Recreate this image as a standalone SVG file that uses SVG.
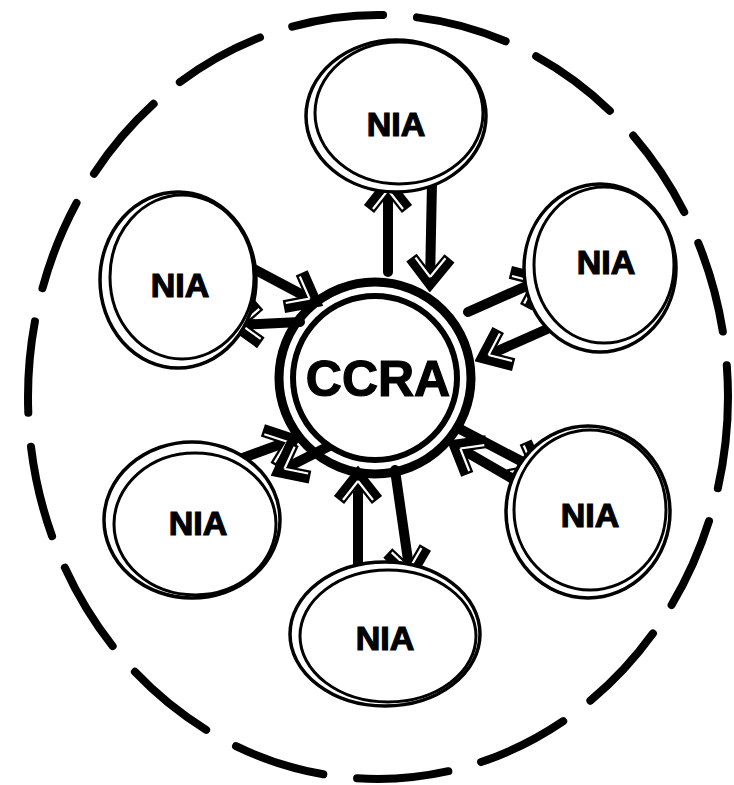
<svg xmlns="http://www.w3.org/2000/svg" width="734" height="785" viewBox="0 0 734 785">
<style>
.nia-o{fill:#fff;stroke:#000;stroke-width:3.5}
.nia-i{fill:none;stroke:#000;stroke-width:3}
.lbl{font-family:"Liberation Sans",Arial,sans-serif;font-weight:bold;fill:#000;text-anchor:middle;stroke:#000;stroke-width:1.2}
.c{stroke:#000;stroke-width:10;stroke-linecap:round;fill:none}
</style>
<defs>
<marker id="arr" markerUnits="userSpaceOnUse" viewBox="-36 -28 46 56" markerWidth="46" markerHeight="56" refX="0" refY="0" orient="auto">
<path d="M-24,-19 L0,0 L-24,19" fill="none" stroke="#000" stroke-width="13" stroke-linejoin="miter"/>
<path d="M-24,-15 L-5,0 M-24,15 L-5,0" fill="none" stroke="#fff" stroke-width="2.2"/>
</marker>
</defs>
<rect width="734" height="785" fill="#fff"/>
<g id="boundary">
<ellipse cx="378" cy="397" rx="350" ry="382" fill="none" stroke="#000" stroke-width="8" stroke-linecap="round" stroke-dasharray="92 34"/>
</g>
<g id="connectors">
<line class="c" x1="388" y1="272" x2="388" y2="185" marker-end="url(#arr)"/>
<line class="c" x1="432" y1="183" x2="430" y2="282" marker-end="url(#arr)"/>
<line class="c" x1="248" y1="266" x2="314" y2="301" marker-end="url(#arr)"/>
<line class="c" x1="300" y1="322" x2="236" y2="325" marker-end="url(#arr)"/>
<line class="c" x1="468" y1="312" x2="540" y2="280" marker-end="url(#arr)"/>
<line class="c" x1="572" y1="318" x2="484" y2="357" marker-end="url(#arr)"/>
<line class="c" x1="458" y1="428" x2="538" y2="470" marker-end="url(#arr)"/>
<line class="c" x1="525" y1="486" x2="456" y2="446" marker-end="url(#arr)"/>
<line class="c" x1="232" y1="462" x2="292" y2="440" marker-end="url(#arr)"/>
<line class="c" x1="357" y1="432" x2="280" y2="471" marker-end="url(#arr)"/>
<line class="c" x1="358" y1="585" x2="358" y2="476" marker-end="url(#arr)"/>
<line class="c" x1="395" y1="470" x2="410" y2="574" marker-end="url(#arr)"/>
</g>
<g id="ccra">
<circle cx="375" cy="378" r="96" fill="none" stroke="#000" stroke-width="9"/>
<circle cx="375" cy="378" r="82" fill="#fff" stroke="#000" stroke-width="6"/>
<text class="lbl" x="378" y="396" font-size="50">CCRA</text>
</g>
<g id="nia-top">
<ellipse class="nia-o" cx="396" cy="116" rx="90" ry="76"/>
<ellipse class="nia-i" cx="399" cy="113" rx="84" ry="71"/>
<text class="lbl" x="396" y="136" font-size="34">NIA</text>
</g>
<g id="nia-upper-left">
<ellipse class="nia-o" cx="178" cy="280" rx="78" ry="88"/>
<ellipse class="nia-i" cx="182" cy="277" rx="72" ry="82"/>
<text class="lbl" x="180" y="297" font-size="34">NIA</text>
</g>
<g id="nia-upper-right">
<ellipse class="nia-o" cx="600" cy="268" rx="76" ry="84"/>
<ellipse class="nia-i" cx="604" cy="265" rx="70" ry="78"/>
<text class="lbl" x="606" y="274" font-size="34">NIA</text>
</g>
<g id="nia-lower-left">
<ellipse class="nia-o" cx="192" cy="520" rx="88" ry="78"/>
<ellipse class="nia-i" cx="195" cy="524" rx="81" ry="71"/>
<text class="lbl" x="198" y="535" font-size="34">NIA</text>
</g>
<g id="nia-lower-right">
<ellipse class="nia-o" cx="588" cy="512" rx="82" ry="86"/>
<ellipse class="nia-i" cx="590" cy="510" rx="76" ry="80"/>
<text class="lbl" x="590" y="527" font-size="34">NIA</text>
</g>
<g id="nia-bottom">
<ellipse class="nia-o" cx="385" cy="634" rx="95" ry="72"/>
<ellipse class="nia-i" cx="388" cy="636" rx="88" ry="66"/>
<text class="lbl" x="385" y="650" font-size="34">NIA</text>
</g>
</svg>
